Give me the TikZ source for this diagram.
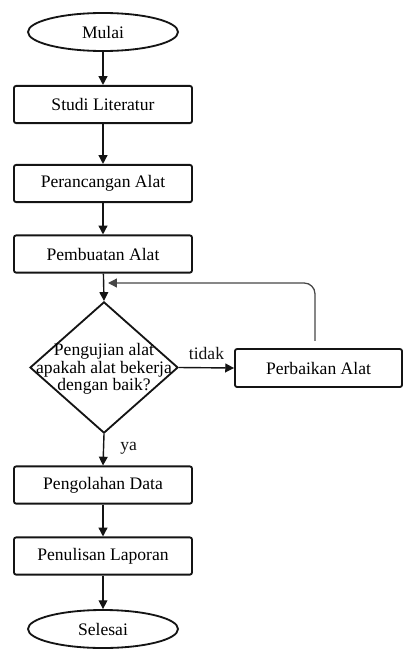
\documentclass[tikz,border=0pt]{standalone}
\usepackage{fontspec}
\setmainfont{Liberation Serif}
\usepackage{tikz}
\usetikzlibrary{shapes.geometric, arrows.meta, positioning, calc}
\definecolor{mydark}{RGB}{20,20,20}
\definecolor{mygrey}{RGB}{70,70,70}
\tikzset{
  block/.style={rectangle, draw=mydark, fill=white,
    minimum width=4.45cm, minimum height=0.93cm,
    font=\fontsize{12.5}{14}\selectfont, rounded corners=1.5pt, line width=1.3pt},
  terminal/.style={ellipse, draw=mydark, fill=white,
    minimum width=3.75cm, minimum height=0.95cm, inner sep=0pt,
    font=\fontsize{12.5}{14}\selectfont, line width=1.3pt},
  decision/.style={diamond, draw=mydark, minimum width=3.7cm,
    minimum height=3.28cm, inner sep=0pt, line width=1.3pt},
  arrow/.style={-{Triangle[length=2.2mm, width=2.2mm]}, line width=1pt, color=mydark},
  looparrow/.style={-{Triangle[length=2.2mm, width=2.2mm]}, line width=0.9pt,
    color=mygrey, rounded corners=0.27cm},
  lbl/.style={font=\fontsize{12.5}{14}\selectfont}
}
\begin{document}
\begin{tikzpicture}[x=0.025cm, y=-0.025cm]
  \useasboundingbox (0,0) rectangle (403,650);

  % Main column
  \node[terminal] (mulai) at (103,32) {Mulai};
  \node[block] (studi) at (103,104.5) {Studi Literatur};
  \node[block] (rancang) at (103,183.5) {Perancangan Alat};
  \node[block] (buat) at (103,254) {Pembuatan Alat};

  % Decision
  \node[decision] (uji) at (104,367.5) {};
  \node[lbl, align=center] (ujitext) at (104,369)
    {Pengujian alat\\[-1.5pt]apakah alat bekerja\\[-1.5pt]dengan baik?};
  \node[block, minimum width=4.175cm, minimum height=0.95cm] (perbaikan) at (318.5,368) {Perbaikan Alat};

  \node[block] (olah) at (103,485) {Pengolahan Data};
  \node[block] (tulis) at (103,556) {Penulisan Laporan};
  \node[terminal] (selesai) at (103,629) {Selesai};

  % Loop back point
  \coordinate (balik) at (108,283);

  % Connectors
  \draw[arrow] (mulai) -- (studi);
  \draw[arrow] (studi) -- (rancang);
  \draw[arrow] (rancang) -- (buat);
  \draw[arrow] (buat) -- (uji.north);
  \draw[arrow] (uji.east) -- node[lbl, above, yshift=2pt] {tidak} (perbaikan.west);
  \draw[looparrow] ([xshift=-3.5*0.025cm, yshift=0.18cm]perbaikan.north) |- (balik);
  \draw[arrow] (uji.south) -- node[lbl, right, xshift=8pt, yshift=-2pt, pos=0.35] {ya} (olah.north);
  \draw[arrow] (olah) -- (tulis);
  \draw[arrow] (tulis) -- (selesai);
\end{tikzpicture}
\end{document}
